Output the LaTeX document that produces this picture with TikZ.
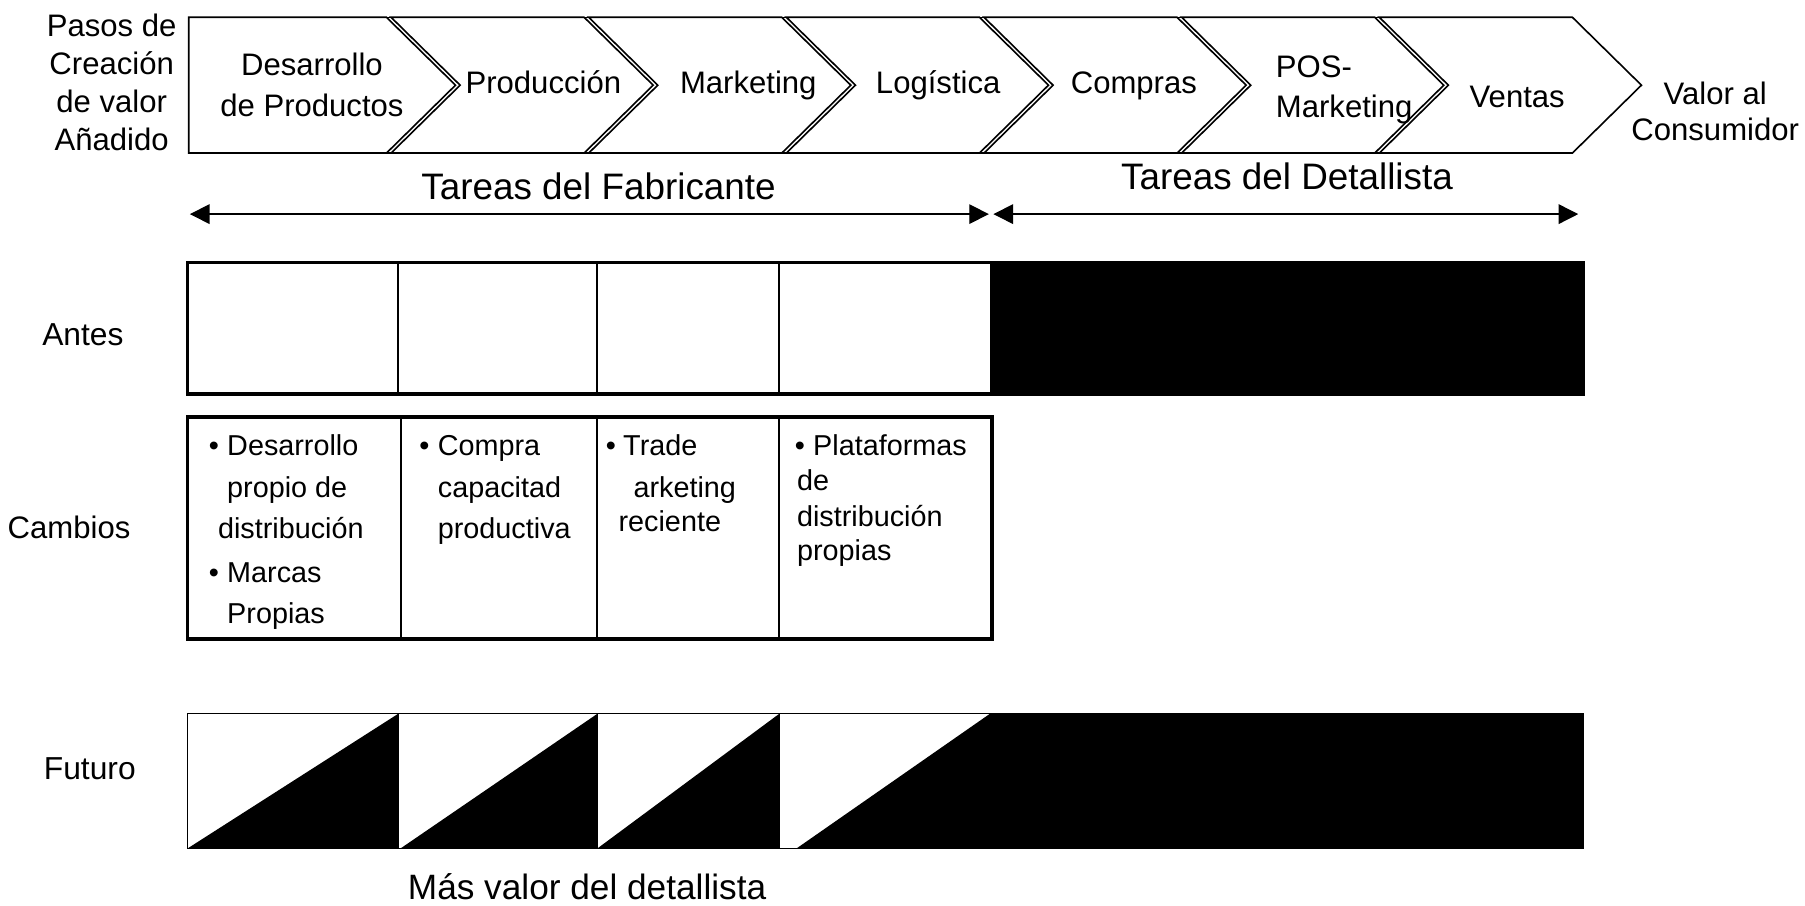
\documentclass[tikz,border=0pt]{standalone}
\usepackage{fontspec}
\setmainfont{Liberation Sans}
\usetikzlibrary{arrows.meta}
\begin{document}
\begin{tikzpicture}[x=0.5pt,y=-0.5pt,
  chev/.style={draw=black,fill=white,line width=0.7pt,line join=miter},
  ctext/.style={inner sep=0pt,anchor=base,align=center,font=\fontsize{13.5}{17.5}\selectfont},
  side/.style={inner sep=0pt,anchor=base,align=center,font=\fontsize{13.5}{16.5}\selectfont},
  big/.style={inner sep=0pt,anchor=base,font=\fontsize{16}{19}\selectfont},
  rowlbl/.style={inner sep=0pt,anchor=base,font=\fontsize{13.8}{16}\selectfont},
  bul/.style={inner sep=0pt,anchor=base west,font=\fontsize{12.5}{14}\selectfont},
  span/.style={line width=0.6pt,{Triangle[length=8.5pt,width=8.5pt]}-{Triangle[length=8.5pt,width=8.5pt]}},
  thick box/.style={draw=black,line width=1.6pt},
  thin line/.style={draw=black,line width=0.6pt},
  cell line/.style={draw=black,line width=0.9pt}]
\useasboundingbox (0,0) rectangle (1568,787);

% ---------- chevrons ----------
\draw[chev] (164,15) -- (335.7,15) -- (395.7,74) -- (335.7,133) -- (164,133) -- cycle;
\foreach \i in {1,...,6}{
  \pgfmathsetmacro\L{164+171.7*\i}
  \pgfmathsetmacro\R{\L+171.7}
  \draw[chev] (\L+4,15) -- (\R,15) -- (\R+60,74) -- (\R,133) -- (\L+4,133) -- (\L+64,74) -- cycle;
}
\draw[thin line] (164,15) -- (1366,15);
\draw[thin line] (164,133) -- (1366,133);

\node[ctext] (c1) at (271,101) {Desarrollo\\de Productos};
\node[ctext] (c2) at (472,81) {Producción};
\node[ctext] (c3) at (650,81) {Marketing};
\node[ctext] (c4) at (815,81) {Logística};
\node[ctext] (c5) at (985,81) {Compras};
\node[ctext,anchor=base west,align=left] (c6) at (1108,102) {POS-\\Marketing};
\node[ctext] (c7) at (1318,93) {Ventas};

\node[side] (pasos) at (97,131) {Pasos de\\Creación\\de valor\\Añadido};
\node[side,font=\fontsize{13.5}{15.5}\selectfont] (valor) at (1490,122) {Valor al\\Consumidor};

% ---------- spans ----------
\node[big] (tf) at (520,173) {Tareas del Fabricante};
\node[big] (td) at (1118,165) {Tareas del Detallista};
\coordinate (aL) at (165,186);
\coordinate (aM1) at (859,186);
\coordinate (aM2) at (863,186);
\coordinate (aR) at (1371,186);
\draw[span] (aL) -- (aM1);
\draw[span] (aM2) -- (aR);

% ---------- Antes ----------
\fill[black] (860,228) rectangle (1375,342);
\draw[cell line] (346,228) -- (346,342);
\draw[cell line] (519,228) -- (519,342);
\draw[cell line] (677,228) -- (677,342);
\draw[thick box] (163,228) rectangle (1375,342);
\node[rowlbl] (antes) at (72,300) {Antes};

% ---------- Cambios ----------
\draw[cell line] (348,362) -- (348,555);
\draw[cell line] (519,362) -- (519,555);
\draw[cell line] (677,362) -- (677,555);
\draw[thick box] (163,362) rectangle (862,555);
\node[rowlbl,font=\fontsize{13.5}{16}\selectfont] (cambios) at (60,468) {Cambios};

\node[bul] (k1a) at (181,396) {•};
\node[bul] (k1b) at (197,396) {Desarrollo};
\node[bul] (k1c) at (197,432) {propio de};
\node[bul] (k1d) at (189,468) {distribución};
\node[bul] (k1e) at (181,506) {•};
\node[bul] (k1f) at (197,506) {Marcas};
\node[bul] (k1g) at (197,542) {Propias};

\node[bul] (k2a) at (364,396) {•};
\node[bul] (k2b) at (380,396) {Compra};
\node[bul] (k2c) at (380,432) {capacitad};
\node[bul] (k2d) at (380,468) {productiva};

\node[bul] (k3a) at (526,396) {•};
\node[bul] (k3b) at (541,396) {Trade};
\node[bul] (k3c) at (550,432) {arketing};
\node[bul] (k3d) at (537,462) {reciente};

\node[bul] (k4a) at (690,396) {•};
\node[bul] (k4b) at (706,396) {Plataformas};
\node[bul] (k4c) at (692,426) {de};
\node[bul] (k4d) at (692,457) {distribución};
\node[bul] (k4e) at (692,487) {propias};

% ---------- Futuro ----------
\fill[black] (163,737) -- (346,620) -- (346,737) -- cycle;
\fill[black] (348,737) -- (519,620) -- (519,737) -- cycle;
\fill[black] (519,737) -- (677,620) -- (677,737) -- cycle;
\fill[black] (692,737) -- (860,620) -- (860,737) -- cycle;
\fill[black] (860,620) rectangle (1375,737);
\draw[thin line] (346,620) -- (346,737);
\draw[thin line] (519,620) -- (519,737);
\draw[thin line] (677,620) -- (677,737);
\draw[thin line] (163,620) rectangle (1375,737);
\node[rowlbl] (futuro) at (78,677) {Futuro};

\node[big,font=\fontsize{15.3}{18}\selectfont] (mas) at (510,781) {Más valor del detallista};
\end{tikzpicture}
\end{document}
